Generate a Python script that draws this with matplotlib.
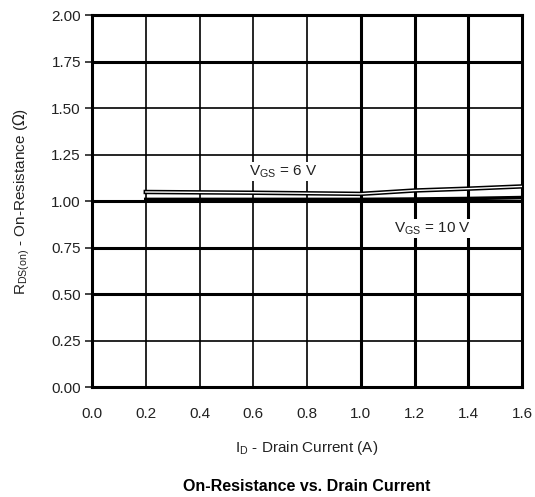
import matplotlib.pyplot as plt
import matplotlib.patheffects as pe

plt.rcParams['font.family'] = ['Liberation Sans', 'DejaVu Sans']

# on-resistance vs drain current
id_amps = [0.2, 0.4, 0.6, 0.8, 1.0, 1.2, 1.4, 1.6]
rds_6v = [1.050, 1.048, 1.046, 1.043, 1.040, 1.058, 1.068, 1.080]
rds_10v = [1.010, 1.010, 1.010, 1.010, 1.010, 1.012, 1.015, 1.020]

x_ticks = [0.0, 0.2, 0.4, 0.6, 0.8, 1.0, 1.2, 1.4, 1.6]
y_ticks = [0.0, 0.25, 0.50, 0.75, 1.00, 1.25, 1.50, 1.75, 2.00]
thick_x = [1.0, 1.2, 1.4]
thick_y = [0.50, 0.75, 1.00, 1.75]

fig = plt.figure(figsize=(5.35, 4.97), dpi=100)
ax = fig.add_axes([0.172, 0.221, 0.804, 0.748])

# grid drawn by hand so some lines can be heavier
for xv in x_ticks[1:-1]:
    ax.axvline(xv, color='black', lw=2.2 if xv in thick_x else 1.2, zorder=1)
for yv in y_ticks[1:-1]:
    ax.axhline(yv, color='black', lw=2.2 if yv in thick_y else 1.2, zorder=1)

ax.plot(id_amps, rds_10v, color='black', lw=2.6, zorder=3)
ax.plot(id_amps, rds_6v, color='white', lw=1.0, zorder=4,
        path_effects=[pe.Stroke(linewidth=3.2, foreground='black'), pe.Normal()])

lbl = dict(ha='center', va='center', fontsize=11, color='#222222',
           bbox=dict(facecolor='white', edgecolor='none', pad=1), zorder=5)
ax.text(0.71, 1.16, r'V$_{\mathregular{GS}}$ = 6 V', **lbl)
ax.text(1.265, 0.855, r'V$_{\mathregular{GS}}$ = 10 V', **lbl)

ax.set_xlim(0, 1.6)
ax.set_ylim(0, 2.0)
ax.set_xticks(x_ticks)
ax.set_xticklabels([f'{v:.1f}' for v in x_ticks])
ax.set_yticks(y_ticks)
ax.set_yticklabels([f'{v:.2f}' for v in y_ticks])
ax.tick_params(axis='x', length=0, pad=14, labelsize=11, colors='#222222')
ax.tick_params(axis='y', length=5, width=1.2, pad=3, labelsize=11, colors='#222222')
for s in ax.spines.values():
    s.set_linewidth(2.2)

ax.set_ylabel(r'R$_{\mathregular{DS(on)}}$ - On-Resistance ($\Omega$)', fontsize=11,
              labelpad=14, color='#222222')
ax.set_xlabel(r'I$_{\mathregular{D}}$ - Drain Current (A)', fontsize=11, labelpad=13,
              color='#222222')
fig.text(0.574, 0.012, 'On-Resistance vs. Drain Current', ha='center', fontsize=11.5,
         fontweight='bold')

fig.savefig('out.png', dpi=100)
